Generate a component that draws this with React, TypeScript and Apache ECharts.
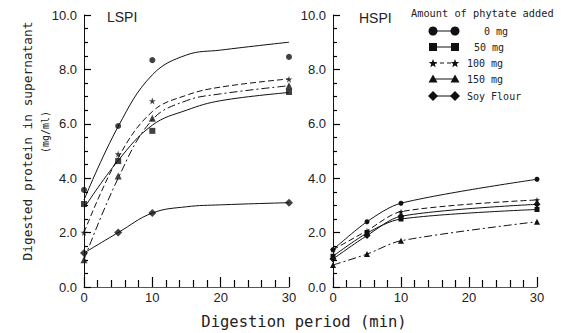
import React, { useEffect, useRef } from "react";
import * as echarts from "echarts";

// ---- data ----
const time = [0, 5, 10, 30];
const fitTime = [0, 5, 10, 15, 20, 30];
const seriesNames = ["0 mg", "50 mg", "100 mg", "150 mg", "Soy Flour"];

// LSPI measured points
const lspi0 = [3.57, 5.92, 8.34, 8.46];
const lspi50 = [3.05, 4.63, 5.74, 7.17];
const lspi100 = [2.0, 4.89, 6.84, 7.64];
const lspi150 = [1.0, 4.08, 6.2, 7.4];
const lspiSoy = [1.25, 2.0, 2.72, 3.1];

// LSPI fitted curves
const lspiFit0 = [3.2, 5.9, 7.8, 8.53, 8.71, 9.0];
const lspiFit50 = [2.9, 4.65, 5.95, 6.5, 6.85, 7.15];
const lspiFit100 = [2.0, 4.75, 6.45, 7.05, 7.35, 7.65];
const lspiFit150 = [1.0, 4.0, 6.15, 6.85, 7.1, 7.4];
const lspiFitSoy = [1.25, 2.0, 2.72, 2.95, 3.02, 3.1];

// HSPI measured points
const hspi0 = [1.37, 2.4, 3.08, 3.96];
const hspi50 = [1.13, 1.98, 2.5, 2.85];
const hspi100 = [1.37, 2.07, 2.77, 3.2];
const hspi150 = [0.81, 1.21, 1.7, 2.4];
const hspiSoy = [1.03, 1.89, 2.6, 3.04];

const xTicks = [0, 10, 20, 30];

const STAR = "path://M50,0 L61,35 L98,35 L68,57 L79,91 L50,70 L21,91 L32,57 L2,35 L39,35 Z";
const symbols = ["circle", "rect", STAR, "triangle", "diamond"];
const symbolSizes = [7, 7, 8, 8, 9];
const lineTypes: any[] = ["solid", "solid", [6, 3], [8, 3, 2, 3], "solid"];

const INK = "#111";
const TICK = "#000";
const TXT = "#222";

function pairs(xs: number[], ys: number[]) {
  return xs.map((x, i) => [x, ys[i]]);
}

function starPoints(cx: number, cy: number, r: number) {
  const pts: number[][] = [];
  for (let i = 0; i < 10; i++) {
    const a = -Math.PI / 2 + (i * Math.PI) / 5;
    const rr = i % 2 === 0 ? r : r * 0.42;
    pts.push([cx + rr * Math.cos(a), cy + rr * Math.sin(a)]);
  }
  return pts;
}

export default function App() {
  const ref = useRef<HTMLDivElement>(null);
  useEffect(() => {
    if (!ref.current) return;
    const chart = echarts.init(ref.current, undefined, { renderer: "svg" });

    const lspiPts = [lspi0, lspi50, lspi100, lspi150, lspiSoy];
    const lspiFits = [lspiFit0, lspiFit50, lspiFit100, lspiFit150, lspiFitSoy];
    const hspiPts = [hspi0, hspi50, hspi100, hspi150, hspiSoy];

    const series: any[] = [];
    lspiFits.forEach((f, i) => {
      series.push({
        name: seriesNames[i] + " fit",
        type: "line",
        xAxisIndex: 0,
        yAxisIndex: 0,
        data: pairs(fitTime, f),
        smooth: 0.4,
        showSymbol: false,
        lineStyle: { color: INK, width: 1, type: lineTypes[i] },
      });
    });
    lspiPts.forEach((p, i) => {
      series.push({
        name: seriesNames[i],
        type: "scatter",
        xAxisIndex: 0,
        yAxisIndex: 0,
        data: pairs(time, p),
        symbol: symbols[i],
        symbolSize: symbolSizes[i] - 1,
        itemStyle: { color: INK },
      });
    });
    hspiPts.forEach((p, i) => {
      series.push({
        name: seriesNames[i] + " HSPI",
        type: "line",
        xAxisIndex: 1,
        yAxisIndex: 1,
        data: pairs(time, p),
        smooth: 0.3,
        symbol: symbols[i],
        symbolSize: symbolSizes[i] - 2,
        itemStyle: { color: INK },
        lineStyle: { color: INK, width: 1, type: lineTypes[i] },
      });
    });

    const makeX = (gi: number) => ({
      type: "value",
      gridIndex: gi,
      min: 0,
      max: 30,
      interval: 10,
      splitLine: { show: false },
      axisLine: { show: true, lineStyle: { color: "#555" } },
      axisTick: { show: true, inside: true, length: 10, lineStyle: { color: TICK, width: 1.2 } },
      minorTick: { show: true, splitNumber: 5, length: 7, lineStyle: { color: TICK, width: 1.2 } },
      axisLabel: {
        margin: 4,
        color: TXT,
        fontSize: 13,
        fontFamily: "Liberation Sans",
        customValues: xTicks,
      },
    });
    const makeY = (gi: number) => ({
      type: "value",
      gridIndex: gi,
      min: 0,
      max: 10,
      interval: 2,
      splitLine: { show: false },
      axisLine: { show: true, lineStyle: { color: INK } },
      axisTick: { show: true, inside: true, length: 7, lineStyle: { color: TICK, width: 1.2 } },
      minorTick: { show: true, splitNumber: 4, length: 4, lineStyle: { color: TICK, width: 1.2 } },
      axisLabel: {
        margin: 7,
        color: TXT,
        fontSize: 13,
        fontFamily: "Liberation Sans",
        formatter: (v: number) => v.toFixed(1),
      },
    });

    const legendX1 = 433;
    const legendX2 = 455;
    const legendRows = [31, 47, 63, 79, 96];
    const labelX = [484, 474, 467, 467, 467];
    const graphics: any[] = [
      {
        type: "text",
        x: 107,
        y: 17,
        style: { text: "LSPI", fill: TXT, fontSize: 14, fontFamily: "Liberation Sans", verticalAlign: "middle" },
      },
      {
        type: "text",
        x: 359,
        y: 18,
        style: { text: "HSPI", fill: TXT, fontSize: 14, fontFamily: "Liberation Sans", verticalAlign: "middle" },
      },
      {
        type: "text",
        x: 411,
        y: 13,
        style: {
          text: "Amount of phytate added",
          fill: TXT,
          fontSize: 10.3,
          fontFamily: "DejaVu Sans Mono",
          verticalAlign: "middle",
        },
      },
      {
        type: "text",
        x: 27,
        y: 141,
        rotation: Math.PI / 2,
        style: {
          text: "Digested protein in supernatant",
          fill: TXT,
          fontSize: 12.8,
          fontFamily: "DejaVu Sans Mono",
          align: "center",
          verticalAlign: "middle",
        },
      },
      {
        type: "text",
        x: 45,
        y: 132,
        rotation: Math.PI / 2,
        style: {
          text: "(mg/ml)",
          fill: TXT,
          fontSize: 10,
          fontFamily: "DejaVu Sans Mono",
          align: "center",
          verticalAlign: "middle",
        },
      },
      {
        type: "text",
        x: 304,
        y: 322,
        style: {
          text: "Digestion period (min)",
          fill: TXT,
          fontSize: 15.5,
          fontFamily: "DejaVu Sans Mono",
          align: "center",
          verticalAlign: "middle",
        },
      },
    ];
    legendRows.forEach((y, i) => {
      graphics.push({
        type: "line",
        shape: { x1: legendX1, y1: y, x2: legendX2, y2: y },
        style: i === 2 ? { stroke: INK, lineWidth: 1, lineDash: [4, 3] } : { stroke: INK, lineWidth: 1 },
      });
      [legendX1, legendX2].forEach((x) => {
        if (i === 0) {
          graphics.push({ type: "circle", shape: { cx: x, cy: y, r: 4.5 }, style: { fill: INK } });
        } else if (i === 1) {
          graphics.push({ type: "rect", shape: { x: x - 4, y: y - 4, width: 8, height: 8 }, style: { fill: INK } });
        } else if (i === 2) {
          graphics.push({ type: "polygon", shape: { points: starPoints(x, y + 0.5, 4.5) }, style: { fill: INK } });
        } else if (i === 3) {
          graphics.push({
            type: "polygon",
            shape: { points: [[x, y - 4.5], [x + 4.5, y + 3.5], [x - 4.5, y + 3.5]] },
            style: { fill: INK },
          });
        } else {
          graphics.push({
            type: "polygon",
            shape: { points: [[x, y - 5], [x + 5, y], [x, y + 5], [x - 5, y]] },
            style: { fill: INK },
          });
        }
      });
      graphics.push({
        type: "text",
        x: labelX[i],
        y: y,
        style: {
          text: seriesNames[i],
          fill: TXT,
          fontSize: 10,
          fontFamily: "DejaVu Sans Mono",
          verticalAlign: "middle",
        },
      });
    });

    chart.setOption({
      animation: false,
      grid: [
        { left: 84, top: 15, width: 205, height: 272 },
        { left: 333, top: 15, width: 204, height: 272 },
      ],
      xAxis: [makeX(0), makeX(1)],
      yAxis: [makeY(0), makeY(1)],
      series,
      graphic: graphics,
    });
    return () => chart.dispose();
  }, []);
  return <div ref={ref} style={{ width: 566, height: 333, position: "absolute", left: 0, top: 0 }} />;
}
